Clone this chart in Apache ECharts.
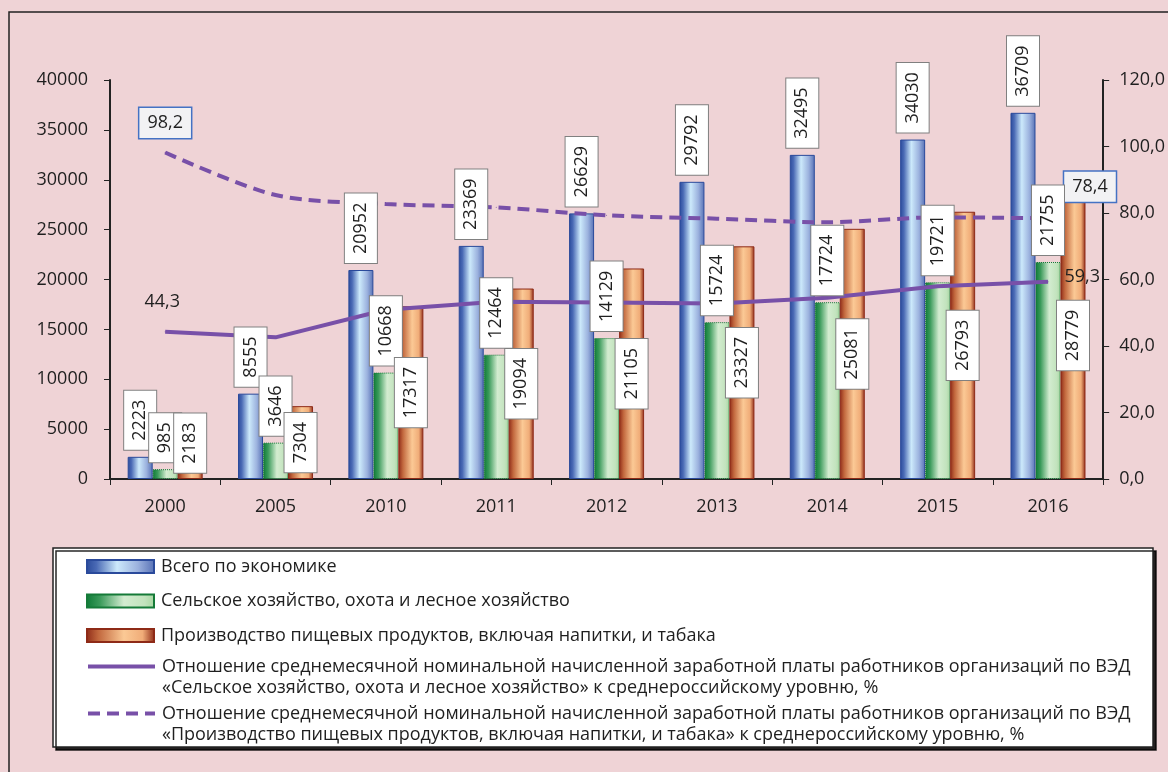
<!DOCTYPE html>
<html>
<head>
<meta charset="utf-8">
<script src="https://cdn.jsdelivr.net/npm/echarts@6/dist/echarts.min.js"></script>
<style>
  html, body { margin: 0; padding: 0; background: #efd3d6; }
  #chart { width: 1168px; height: 772px; }
</style>
</head>
<body>
<div id="chart"></div>
<script>
// годы
const years = ['2000', '2005', '2010', '2011', '2012', '2013', '2014', '2015', '2016'];
// среднемесячная зарплата, руб.
const totalWage = [2223, 8555, 20952, 23369, 26629, 29792, 32495, 34030, 36709];
const agroWage = [985, 3646, 10668, 12464, 14129, 15724, 17724, 19721, 21755];
const foodWage = [2183, 7304, 17317, 19094, 21105, 23327, 25081, 26793, 28779];
// отношение к среднероссийскому уровню, %
const agroRatio = [44.3, 42.6, 50.9, 53.3, 53.1, 52.8, 54.5, 58.0, 59.3];
const foodRatio = [98.2, 85.4, 82.7, 81.7, 79.3, 78.3, 77.2, 78.7, 78.4];
// шкалы осей
const leftTicks = [0, 5000, 10000, 15000, 20000, 25000, 30000, 35000, 40000];
const rightTicks = [0, 20, 40, 60, 80, 100, 120];

const names = [
  'Всего по экономике',
  'Сельское хозяйство, охота и лесное хозяйство',
  'Производство пищевых продуктов, включая напитки, и табака',
  'Отношение среднемесячной номинальной начисленной заработной платы работников организаций по ВЭД\n«Сельское хозяйство, охота и лесное хозяйство» к среднероссийскому уровню, %',
  'Отношение среднемесячной номинальной начисленной заработной платы работников организаций по ВЭД\n«Производство пищевых продуктов, включая напитки, и табака» к среднероссийскому уровню, %'
];

const font = 'Open Sans';
const textColor = '#1f1f1f';
const lineColor = '#7850a8';
const comma = v => v.toFixed(1).replace('.', ',');

const grad = stops => new echarts.graphic.LinearGradient(0, 0, 1, 0,
  stops.map(c => ({ offset: c[0], color: c[1] })));

const blueFill = grad([[0, '#2a4a9b'], [0.15, '#4a6ab5'], [0.45, '#cce9fb'], [0.75, '#9cb2de'], [1, '#5670b5']]);
const greenFill = grad([[0, '#0d7a36'], [0.2, '#3a9a5a'], [0.55, '#d3ecd0'], [0.85, '#c2e3bd'], [1, '#a5d6a0']]);
const orangeFill = grad([[0, '#8e2a17'], [0.18, '#c2683e'], [0.55, '#fbc995'], [0.82, '#f0ac78'], [1, '#8e2a17']]);

// подпись в рамке, повернутая на 90 градусов
const boxLabel = {
  show: true,
  rotate: 90,
  fontFamily: font,
  fontSize: 18,
  color: textColor,
  backgroundColor: '#ffffff',
  borderColor: '#808080',
  borderWidth: 1,
  padding: [7, 9]
};
const topLabel = Object.assign({}, boxLabel, { position: 'top', align: 'left', verticalAlign: 'middle', distance: 7 });
const midLabel = Object.assign({}, boxLabel, { position: 'inside', align: 'center', verticalAlign: 'middle' });

const last = years.length - 1;

const chart = echarts.init(document.getElementById('chart'));

const legendBase = {
  orient: 'vertical',
  left: 86,
  padding: 0,
  itemWidth: 67,
  itemHeight: 13,
  z: 10,
  selectedMode: false,
  textStyle: { fontFamily: font, fontSize: 18, color: textColor, lineHeight: 21, padding: [0, 0, 0, 2] }
};
// пустая первая строка, чтобы значок стоял против первой строки текста
const lineLegend = (name, top) => Object.assign({}, legendBase, {
  top: top,
  itemGap: 0,
  formatter: n => ' \n' + n,
  data: [{ name: name, itemStyle: { opacity: 0 }, lineStyle: { width: 4 } }]
});

// невидимые столбцы на второй оси — только для подписей поверх линий
const labelBar = (id, values, label) => ({
  name: id,
  type: 'bar',
  xAxisIndex: 1,
  barWidth: 25,
  barGap: '0%',
  silent: true,
  z: 5,
  data: values,
  itemStyle: { color: 'rgba(0,0,0,0)' },
  label: label
});

chart.setOption({
  backgroundColor: '#efd3d6',
  textStyle: { fontFamily: font },
  graphic: [
    {
      type: 'rect', silent: true, z: -1,
      shape: { x: 9, y: 12, width: 1300, height: 900 },
      style: { fill: 'none', stroke: '#222', lineWidth: 1.5 }
    },
    {
      type: 'rect', silent: true, z: 0,
      shape: { x: 53, y: 548, width: 1100, height: 199 },
      style: { fill: '#ffffff', stroke: '#222', lineWidth: 1.5, shadowColor: 'rgba(0,0,0,0.85)', shadowOffsetX: 3, shadowOffsetY: 3 }
    }
  ],
  legend: [
    Object.assign({}, legendBase, { top: 556, itemGap: 13.5, icon: 'rect', data: names.slice(0, 3) }),
    lineLegend(names[3], 635),
    lineLegend(names[4], 682)
  ],
  grid: { left: 110, right: 64, top: 80, bottom: 293 },
  xAxis: [
    {
      type: 'category',
      data: years,
      axisLine: { lineStyle: { color: '#222', width: 2 } },
      axisTick: { show: true, length: 6, lineStyle: { color: '#222' } },
      axisLabel: { fontFamily: font, fontSize: 18, color: textColor, margin: 19 }
    },
    { type: 'category', data: years, show: false }
  ],
  yAxis: [
    {
      type: 'value',
      min: leftTicks[0],
      max: leftTicks[leftTicks.length - 1],
      interval: leftTicks[1] - leftTicks[0],
      splitLine: { show: false },
      axisLine: { show: true, lineStyle: { color: '#222', width: 2 } },
      axisTick: { show: true, length: 6, lineStyle: { color: '#222' } },
      axisLabel: { fontFamily: font, fontSize: 18, color: textColor, margin: 22, formatter: v => String(v) }
    },
    {
      type: 'value',
      position: 'right',
      min: rightTicks[0],
      max: rightTicks[rightTicks.length - 1],
      interval: rightTicks[1] - rightTicks[0],
      splitLine: { show: false },
      axisLine: { show: true, lineStyle: { color: '#222', width: 2 } },
      axisTick: { show: true, length: 6, lineStyle: { color: '#222' } },
      axisLabel: { fontFamily: font, fontSize: 18, color: textColor, margin: 16, formatter: comma }
    }
  ],
  series: [
    {
      name: names[0],
      type: 'bar',
      barWidth: 25,
      barGap: '0%',
      z: 2,
      data: totalWage,
      itemStyle: { color: blueFill, borderColor: '#2a4a9b', borderWidth: 1 }
    },
    {
      name: names[1],
      type: 'bar',
      barWidth: 25,
      z: 2,
      data: agroWage,
      itemStyle: { color: greenFill, borderColor: '#157a38', borderWidth: 1, borderType: 'dotted' }
    },
    {
      name: names[2],
      type: 'bar',
      barWidth: 25,
      z: 2,
      data: foodWage,
      itemStyle: { color: orangeFill, borderColor: '#8e2a17', borderWidth: 1 }
    },
    {
      name: names[3],
      type: 'line',
      yAxisIndex: 1,
      z: 3,
      symbol: 'circle',
      symbolSize: 1,
      lineStyle: { color: lineColor, width: 4 },
      itemStyle: { color: lineColor },
      data: agroRatio.map((v, i) => ({
        value: v,
        label: i === 0
          ? { show: true, position: 'top', distance: 20, offset: [-3, 0] }
          : i === last
            ? { show: true, position: 'right', distance: 16, offset: [0, -5] }
            : { show: false }
      })),
      label: { fontFamily: font, fontSize: 18, color: textColor, formatter: p => comma(p.value) }
    },
    {
      name: names[4],
      type: 'line',
      yAxisIndex: 1,
      z: 3,
      symbol: 'circle',
      symbolSize: 1,
      smooth: 0.3,
      lineStyle: { color: lineColor, width: 4, type: [12, 7] },
      itemStyle: { color: lineColor },
      data: foodRatio.map((v, i) => ({
        value: v,
        label: i === 0
          ? { show: true, position: 'top', distance: 14 }
          : i === last
            ? { show: true, position: 'top', distance: 16, offset: [42, 0] }
            : { show: false }
      })),
      label: {
        fontFamily: font, fontSize: 18, color: textColor,
        backgroundColor: '#f2f2f4', borderColor: '#4472c4', borderWidth: 1.5, padding: [6, 8],
        formatter: p => comma(p.value)
      }
    },
    labelBar('lblTotal', totalWage, topLabel),
    labelBar('lblAgro', agroWage, topLabel),
    // подпись 2000 г. сдвинута вверх (смещение в повернутых координатах)
    labelBar('lblFood', foodWage.map((v, i) => i === 0 ? { value: v, label: { offset: [25, 0] } } : v), midLabel)
  ]
});
</script>
</body>
</html>
